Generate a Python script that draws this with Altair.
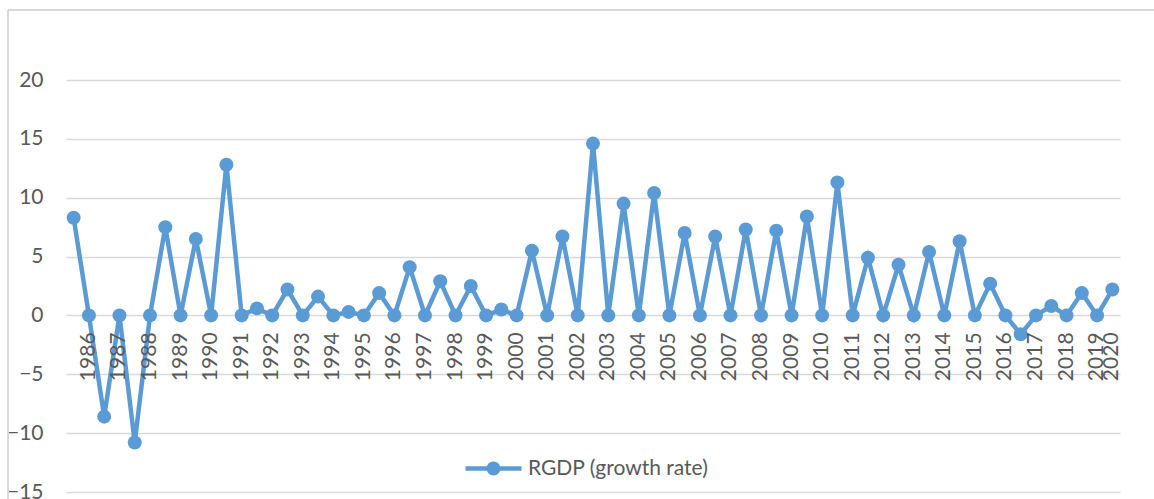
import altair as alt
import pandas as pd

# Category slots (69) and their tick labels as printed under the axis
slot_labels = ["", "1986", "", "1987", "", "1988", "", "1989", "", "1990",
               "", "1991", "", "1992", "", "1993", "", "1994", "", "1995",
               "", "1996", "", "1997", "", "1998", "", "1999", "", "2000",
               "", "2001", "", "2002", "", "2003", "", "2004", "", "2005",
               "", "2006", "", "2007", "", "2008", "", "2009", "", "2010",
               "", "2011", "", "2012", "", "2013", "", "2014", "", "2015",
               "", "2016", "", "2017", "", "2018", "", "2019", "2020"]

rgdp_growth = [8.3, 0, -8.6, 0, -10.8, 0, 7.5, 0, 6.5, 0,
               12.8, 0, 0.6, 0, 2.2, 0, 1.6, 0, 0.3, 0,
               1.9, 0, 4.1, 0, 2.9, 0, 2.5, 0, 0.5, 0,
               5.5, 0, 6.7, 0, 14.6, 0, 9.5, 0, 10.4, 0,
               7.0, 0, 6.7, 0, 7.3, 0, 7.2, 0, 8.4, 0,
               11.3, 0, 4.9, 0, 4.3, 0, 5.4, 0, 6.3, 0,
               2.7, 0, -1.6, 0, 0.8, 0, 1.9, 0, 2.2]

series_name = "RGDP (growth rate)"
y_ticks = [-15, -10, -5, 0, 5, 10, 15, 20]

BLUE = "#5B9BD5"
GRID = "#D9D9D9"
TEXT = "#595959"
FONT = "Lato"

df = pd.DataFrame({
    "idx": list(range(len(rgdp_growth))),
    "value": rgdp_growth,
    "label": slot_labels,
    "series": [series_name] * len(rgdp_growth),
})

xscale = alt.Scale(domain=[-0.5, len(rgdp_growth) - 0.5], nice=False, zero=False)
yscale = alt.Scale(domain=[-15, 20], nice=False)
color = alt.Color("series:N", scale=alt.Scale(range=[BLUE]),
                  legend=alt.Legend(title=None, orient="none", legendX=397, legendY=358))

base = alt.Chart(df)

line = base.mark_line(strokeWidth=4.5).encode(
    x=alt.X("idx:Q", scale=xscale, axis=None),
    y=alt.Y("value:Q", scale=yscale,
            axis=alt.Axis(values=y_ticks, title=None, ticks=False, tickSize=0,
                          domain=False, grid=True, gridColor=GRID, gridWidth=1.4,
                          labelPadding=23, labelFont=FONT, labelFontSize=21,
                          labelColor=TEXT)),
    color=color,
)

points = base.mark_point(filled=True, size=195, opacity=1).encode(
    x=alt.X("idx:Q", scale=xscale),
    y=alt.Y("value:Q", scale=yscale),
    color=color,
)

labels = base.transform_filter("datum.label != ''").mark_text(
    angle=270, align="right", baseline="middle", dx=-17,
    font=FONT, fontSize=21, color=TEXT,
).encode(
    x=alt.X("idx:Q", scale=xscale),
    y=alt.datum(0),
    text="label:N",
)

frame_left = alt.Chart(df).mark_rule(color=GRID, strokeWidth=1.4).encode(
    x=alt.value(-58), y=alt.value(-70), y2=alt.value(440))
frame_top = alt.Chart(df).mark_rule(color=GRID, strokeWidth=1.4).encode(
    x=alt.value(-58), x2=alt.value(1100), y=alt.value(-70))

chart = alt.layer(frame_left, frame_top, line, points, labels).properties(
    width=1054, height=412,
    autosize=alt.AutoSizeParams(type="none"),
    padding={"left": 66, "top": 80, "right": 34, "bottom": 7},
    background="white",
).configure_view(stroke=None).configure_legend(
    symbolType="M-1,0L1,0M-0.17,0A0.17,0.17,0,1,0,0.17,0A0.17,0.17,0,1,0,-0.17,0Z",
    symbolSize=3136,
    symbolStrokeWidth=4.5,
    symbolFillColor=BLUE,
    symbolStrokeColor=BLUE,
    symbolOpacity=1,
    labelFont=FONT, labelFontSize=21, labelColor=TEXT, labelLimit=0,
    labelOffset=4, padding=0,
)

chart.save("out.html", embed_options={"renderer": "svg", "actions": False})
